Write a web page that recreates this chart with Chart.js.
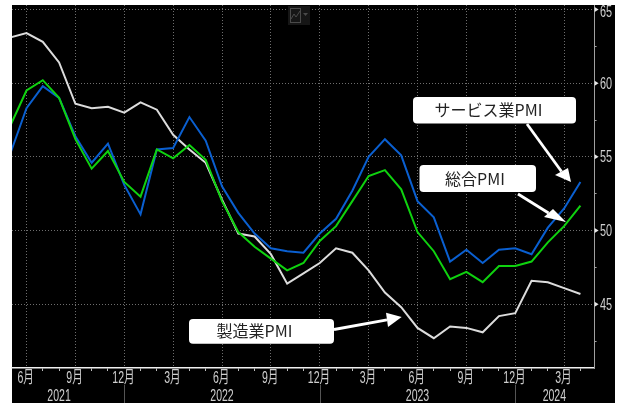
<!DOCTYPE html>
<html lang="ja">
<head>
<meta charset="utf-8">
<title>PMI</title>
<script src="https://cdn.jsdelivr.net/npm/chart.js@4"></script>
<style>
  html, body { margin: 0; padding: 0; background: #fff; }
  canvas { display: block; }
</style>
</head>
<body>
<canvas id="pmiChart" width="622" height="403"></canvas>
<script>
// 2021年5月〜2024年4月の月次データ
const monthNumbers = [5,6,7,8,9,10,11,12,1,2,3,4,5,6,7,8,9,10,11,12,1,2,3,4,5,6,7,8,9,10,11,12,1,2,3,4];
const compositePmi = [57.1,59.5,60.2,59.0,56.2,54.2,55.4,53.3,52.3,55.5,54.9,55.8,54.8,52.0,49.9,48.9,48.1,47.3,47.8,49.3,50.3,52.0,53.7,54.1,52.8,49.9,48.6,46.7,47.2,46.5,47.6,47.6,47.9,49.2,50.3,51.7];
const servicesPmi = [55.2,58.3,59.8,59.0,56.4,54.6,55.9,53.1,51.1,55.5,55.6,57.7,56.1,53.0,51.2,49.8,48.8,48.6,48.5,49.8,50.8,52.7,55.0,56.2,55.1,52.0,50.9,47.9,48.7,47.8,48.7,48.8,48.4,50.2,51.5,53.3];
const manufacturingPmi = [63.1,63.4,62.8,61.4,58.6,58.3,58.4,58.0,58.7,58.2,56.5,55.5,54.6,52.1,49.8,49.6,48.4,46.4,47.1,47.8,48.8,48.5,47.3,45.8,44.8,43.4,42.7,43.5,43.4,43.1,44.2,44.4,46.6,46.5,46.1,45.7];

const yearLabels = ['2021', '2022', '2023', '2024'];
const yearLabelAt = [3, 13, 25, 33.4];
const yearBreaks = [7, 19, 31];
const yTicks = [42.5,45,47.5,50,52.5,55,57.5,60,62.5,65];

const X_MIN = 0.11, X_MAX = 35.87, Y_MIN = 40.68, Y_MAX = 65.3;
const TICK_FAMILY = '"Liberation Sans", "Noto Sans CJK JP", sans-serif';
const TICK_COLOR = '#cfcfcf';
const GRID_COLOR = '#6e6e6e';

const toPoints = values => values.map((y, i) => ({ x: i, y }));
const isQuarter = i => monthNumbers[i] % 3 === 0;

// 軸のラベル分の余白を取らせない
const noPadding = axis => {
  axis.paddingLeft = axis.paddingRight = axis.paddingTop = axis.paddingBottom = 0;
};

// 吹き出しと矢印
const callouts = [
  { text: 'サービス業PMI', box: [413, 97, 163, 26.5], textX: 488.5,
    from: [527, 124], tip: [571, 182], head: [[555, 175], [568, 168]] },
  { text: '総合PMI', box: [419.5, 165, 116.5, 27], textX: 475,
    from: [518, 194], tip: [566, 222], head: [[544, 217], [553, 209]] },
  { text: '製造業PMI', box: [189, 319, 145, 24.7], textX: 254.5,
    from: [334, 329.5], tip: [401.7, 317], head: [[386, 312.7], [388, 327]] }
];

const panelBackground = {
  id: 'panelBackground',
  beforeDraw(chart) {
    const ctx = chart.ctx;
    ctx.save();
    ctx.fillStyle = '#000';
    ctx.fillRect(12, 5, 603, 398);
    ctx.restore();
  }
};

// 長体の目盛りラベル(横方向だけ縮めて描く)
function drawNarrowText(ctx, text, x, y, size, squeeze, align) {
  ctx.save();
  ctx.translate(x, y);
  ctx.scale(squeeze, 1);
  ctx.font = size + 'px ' + TICK_FAMILY;
  ctx.textAlign = align;
  ctx.textBaseline = 'middle';
  ctx.fillStyle = TICK_COLOR;
  ctx.fillText(text, 0, 0);
  ctx.restore();
}

const axisMarks = {
  id: 'axisMarks',
  afterDraw(chart) {
    const { ctx, chartArea, scales } = chart;
    ctx.save();
    // 右軸の目盛りの三角
    ctx.fillStyle = '#e6e6e6';
    yTicks.filter(v => v % 5 === 0).forEach(v => {
      const y = scales.y.getPixelForValue(v);
      ctx.beginPath();
      ctx.moveTo(chartArea.right, y - 2.5);
      ctx.lineTo(chartArea.right + 4, y);
      ctx.lineTo(chartArea.right, y + 2.5);
      ctx.closePath();
      ctx.fill();
    });
    // 年の区切り
    ctx.strokeStyle = '#555';
    ctx.lineWidth = 1;
    yearBreaks.forEach(v => {
      const x = Math.round(scales.x.getPixelForValue(v)) + 0.5;
      ctx.beginPath();
      ctx.moveTo(x, 385);
      ctx.lineTo(x, 403);
      ctx.stroke();
    });
    // 目盛りラベル
    scales.x.ticks.forEach(t => {
      if (t.label) drawNarrowText(ctx, t.label, scales.x.getPixelForValue(t.value) - 0.8, 378, 17, 0.62, 'center');
    });
    scales.years.ticks.forEach(t => {
      drawNarrowText(ctx, t.label, scales.years.getPixelForValue(t.value), 396, 17, 0.62, 'center');
    });
    scales.y.ticks.forEach(t => {
      if (t.label) {
        const nudge = t.value === 65 ? 3 : 1;
        drawNarrowText(ctx, t.label, 600, scales.y.getPixelForValue(t.value) + nudge, 16, 0.68, 'left');
      }
    });
    // チャートアイコン
    ctx.fillStyle = '#161616';
    ctx.fillRect(288, 6, 22, 19);
    ctx.strokeStyle = '#4a4a4a';
    ctx.strokeRect(290.5, 8.5, 10, 14);
    ctx.beginPath();
    ctx.moveTo(291, 19);
    ctx.lineTo(294, 14);
    ctx.lineTo(296, 17);
    ctx.lineTo(300, 11);
    ctx.stroke();
    ctx.fillStyle = '#4a4a4a';
    ctx.beginPath();
    ctx.moveTo(303, 13);
    ctx.lineTo(308, 13);
    ctx.lineTo(305.5, 16);
    ctx.closePath();
    ctx.fill();
    ctx.restore();
  }
};

const calloutLabels = {
  id: 'calloutLabels',
  afterDatasetsDraw(chart) {
    const ctx = chart.ctx;
    ctx.save();
    callouts.forEach(c => {
      ctx.strokeStyle = '#fff';
      ctx.fillStyle = '#fff';
      ctx.lineWidth = 2.8;
      ctx.beginPath();
      ctx.moveTo(c.from[0], c.from[1]);
      ctx.lineTo((c.head[0][0] + c.head[1][0]) / 2, (c.head[0][1] + c.head[1][1]) / 2);
      ctx.stroke();
      ctx.beginPath();
      ctx.moveTo(c.tip[0], c.tip[1]);
      ctx.lineTo(c.head[0][0], c.head[0][1]);
      ctx.lineTo(c.head[1][0], c.head[1][1]);
      ctx.closePath();
      ctx.fill();

      ctx.beginPath();
      ctx.roundRect(c.box[0], c.box[1], c.box[2], c.box[3], 4);
      ctx.fill();

      ctx.fillStyle = '#222';
      ctx.font = '16px "Noto Sans CJK JP", sans-serif';
      ctx.textAlign = 'center';
      ctx.textBaseline = 'middle';
      ctx.fillText(c.text, c.textX, c.box[1] + c.box[3] / 2);
    });
    ctx.restore();
  }
};

new Chart(document.getElementById('pmiChart'), {
  type: 'line',
  data: {
    datasets: [
      { label: '総合PMI', data: toPoints(compositePmi), borderColor: '#0fd20f' },
      { label: 'サービス業PMI', data: toPoints(servicesPmi), borderColor: '#0a5fd0' },
      { label: '製造業PMI', data: toPoints(manufacturingPmi), borderColor: '#dcdcdc' }
    ]
  },
  options: {
    responsive: false,
    animation: false,
    layout: { padding: { left: 12, top: 5, right: 7, bottom: 0 } },
    elements: {
      point: { radius: 0 },
      line: { borderWidth: 2, tension: 0, borderJoinStyle: 'miter' }
    },
    plugins: { legend: { display: false }, tooltip: { enabled: false } },
    scales: {
      x: {
        type: 'linear',
        position: 'bottom',
        min: X_MIN,
        max: X_MAX,
        weight: 1,
        afterBuildTicks: axis => { axis.ticks = monthNumbers.map((m, i) => ({ value: i })).slice(1); },
        afterFit: axis => { axis.height = 18; noPadding(axis); },
        border: { display: true, color: '#f0f0f0', width: 1.5, dash: [1, 2] },
        grid: {
          color: c => (c.tick && isQuarter(c.tick.value) ? GRID_COLOR : 'transparent'),
          tickColor: c => (isQuarter(c.tick.value) ? 'transparent' : '#bdbdbd'),
          tickLength: 3
        },
        ticks: {
          display: false,
          autoSkip: false,
          callback: value => (isQuarter(value) ? monthNumbers[value] + '月' : '')
        }
      },
      years: {
        type: 'linear',
        position: 'bottom',
        min: X_MIN,
        max: X_MAX,
        weight: 2,
        afterBuildTicks: axis => { axis.ticks = yearLabelAt.map(value => ({ value })); },
        afterFit: axis => { axis.height = 17; noPadding(axis); },
        border: { display: false },
        grid: { display: false, drawTicks: false },
        ticks: {
          display: false,
          autoSkip: false,
          callback: value => yearLabels[yearLabelAt.indexOf(value)]
        }
      },
      y: {
        type: 'linear',
        position: 'right',
        min: Y_MIN,
        max: Y_MAX,
        afterBuildTicks: axis => { axis.ticks = yTicks.map(value => ({ value })); },
        afterFit: axis => { axis.width = 20.4; noPadding(axis); },
        border: { display: true, color: '#a0a0a0', width: 1, dash: [1, 2] },
        grid: {
          color: c => (c.tick && c.tick.value % 5 === 0 ? GRID_COLOR : 'transparent'),
          tickColor: '#a0a0a0',
          tickLength: 2
        },
        ticks: {
          display: false,
          autoSkip: false,
          callback: value => (value % 5 === 0 ? String(value) : '')
        }
      }
    }
  },
  plugins: [panelBackground, axisMarks, calloutLabels]
});
</script>
</body>
</html>
